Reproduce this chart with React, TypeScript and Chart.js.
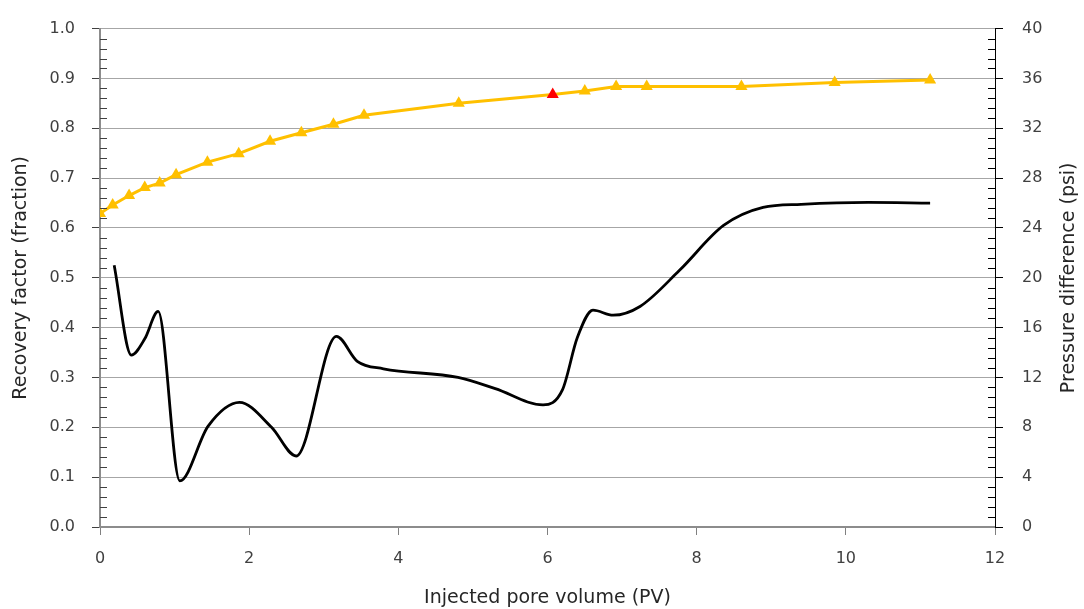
import React, { useEffect, useRef } from "react";
import { Chart, registerables } from "chart.js";

Chart.register(...registerables);

// Recovery factor (left axis, fraction) vs injected PV
const rfPV = [0.0, 0.17, 0.39, 0.6, 0.8, 1.02, 1.44, 1.86, 2.28, 2.7, 3.13, 3.54, 4.81, 6.07, 6.5, 6.92, 7.33, 8.6, 9.85, 11.13];
const rfValues = [0.629, 0.646, 0.665, 0.681, 0.69, 0.707, 0.732, 0.749, 0.774, 0.791, 0.808, 0.826, 0.85, 0.868, 0.875, 0.884, 0.884, 0.884, 0.892, 0.897];
const highlightIndex = 13;

// Pressure difference (right axis, psi) vs injected PV
const dpPV = [0.19, 0.42, 0.6, 0.78, 1.07, 1.45, 1.87, 2.3, 2.63, 3.17, 3.45, 3.8, 4.8, 5.3, 5.94, 6.2, 6.4, 6.61, 6.88, 7.24, 7.77, 8.36, 8.89, 9.4, 10.3, 11.13];
const dpValues = [21.0, 13.8, 15.1, 17.3, 3.7, 8.1, 10.0, 8.0, 5.7, 15.3, 13.3, 12.7, 12.0, 11.1, 9.8, 11.0, 15.2, 17.4, 17.0, 17.7, 20.6, 24.2, 25.65, 25.9, 26.05, 26.0];

const xTicks = [0, 2, 4, 6, 8, 10, 12];
const leftTicks = [0, 0.1, 0.2, 0.3, 0.4, 0.5, 0.6, 0.7, 0.8, 0.9, 1.0];
const rightTicks = [0, 4, 8, 12, 16, 20, 24, 28, 32, 36, 40];

const xTitle = "Injected pore volume (PV)";
const leftTitle = "Recovery factor (fraction)";
const rightTitle = "Pressure difference (psi)";

const TITLE_FONT = "19px 'DejaVu Sans', sans-serif";
const TICK_FONT = { family: "'DejaVu Sans', sans-serif", size: 16 };

const extras = {
  id: "extras",
  afterDraw(chart: any) {
    const ctx = chart.ctx;
    const y = chart.scales.y;
    const y1 = chart.scales.y1;
    ctx.save();
    ctx.lineWidth = 1;
    ctx.strokeStyle = "#404040";
    for (let i = 0; i <= 50; i++) {
      if (i % 5 === 0) continue;
      const py = Math.round(y.getPixelForValue(i * 0.02)) + 0.5;
      ctx.beginPath();
      ctx.moveTo(y.right, py);
      ctx.lineTo(y.right + 7, py);
      ctx.stroke();
    }
    ctx.strokeStyle = "#000000";
    for (let i = 0; i <= 50; i++) {
      if (i % 5 === 0) continue;
      const py = Math.round(y1.getPixelForValue(i * 0.8)) + 0.5;
      ctx.beginPath();
      ctx.moveTo(y1.left - 7, py);
      ctx.lineTo(y1.left, py);
      ctx.stroke();
    }
    // right axis title, reading bottom-to-top
    const area = chart.chartArea;
    ctx.translate(1069, (area.top + area.bottom) / 2);
    ctx.rotate(-Math.PI / 2);
    ctx.font = TITLE_FONT;
    ctx.fillStyle = "#262626";
    ctx.textAlign = "center";
    ctx.textBaseline = "middle";
    ctx.fillText(rightTitle, 0, 0);
    ctx.restore();
  },
};

export default function App() {
  const ref = useRef<HTMLCanvasElement>(null);
  useEffect(() => {
    document.body.style.margin = "0";
    const canvas = ref.current!;
    const chart = new Chart(canvas, {
      type: "line",
      data: {
        datasets: [
          {
            label: "Pressure difference",
            data: dpPV.map((x, i) => ({ x, y: dpValues[i] })),
            yAxisID: "y1",
            borderColor: "#000000",
            borderWidth: 2.8,
            pointRadius: 0,
            cubicInterpolationMode: "monotone",
            fill: false,
          },
          {
            label: "Recovery factor",
            data: rfPV.map((x, i) => ({ x, y: rfValues[i] })),
            yAxisID: "y",
            borderColor: "#FFC000",
            borderWidth: 3,
            tension: 0,
            pointStyle: "triangle",
            pointRadius: 7,
            pointBorderWidth: 0,
            pointBackgroundColor: rfValues.map((_, i) => (i === highlightIndex ? "#FF0000" : "#FFC000")),
            pointBorderColor: rfValues.map((_, i) => (i === highlightIndex ? "#FF0000" : "#FFC000")),
            fill: false,
          },
        ],
      },
      options: {
        responsive: false,
        animation: false,
        layout: { padding: { top: 25, left: 0, right: 0, bottom: 0 } },
        plugins: { legend: { display: false }, tooltip: { enabled: false } },
        scales: {
          x: {
            type: "linear",
            min: 0,
            max: 12,
            afterBuildTicks: (s: any) => {
              s.ticks = xTicks.map((v) => ({ value: v }));
            },
            afterFit: (s: any) => {
              s.height = 82;
            },
            ticks: { padding: 14, color: "#404040", font: TICK_FONT },
            grid: { drawOnChartArea: false, tickLength: 8, tickColor: "#808080", tickWidth: 1 },
            border: { color: "#8C8C8C", width: 2 },
            title: {
              display: true,
              text: xTitle,
              color: "#262626",
              padding: { top: 0, bottom: 0 },
              font: { family: "'DejaVu Sans', sans-serif", size: 19 },
            },
          },
          y: {
            type: "linear",
            position: "left",
            min: 0,
            max: 1,
            afterBuildTicks: (s: any) => {
              s.ticks = leftTicks.map((v) => ({ value: v }));
            },
            afterFit: (s: any) => {
              s.width = 100;
            },
            ticks: {
              padding: 17,
              color: "#404040",
              font: TICK_FONT,
              callback: (v: any) => Number(v).toFixed(1),
            },
            grid: { color: "#A6A6A6", lineWidth: 1, tickLength: 8, tickColor: "#404040" },
            border: { color: "#8C8C8C", width: 2 },
            title: {
              display: true,
              text: leftTitle,
              color: "#262626",
              padding: { top: 10, bottom: 0 },
              font: { family: "'DejaVu Sans', sans-serif", size: 19 },
            },
          },
          y1: {
            type: "linear",
            position: "right",
            min: 0,
            max: 40,
            afterBuildTicks: (s: any) => {
              s.ticks = rightTicks.map((v) => ({ value: v }));
            },
            afterFit: (s: any) => {
              s.width = 89;
            },
            ticks: { padding: 19, color: "#404040", font: TICK_FONT },
            grid: { drawOnChartArea: false, tickLength: 8, tickColor: "#000000" },
            border: { color: "#000000", width: 1 },
            title: { display: false },
          },
        },
      },
      plugins: [extras],
    } as any);
    return () => chart.destroy();
  }, []);
  return (
    <div style={{ position: "absolute", left: 0, top: 0, width: 1084, height: 609, background: "#fff" }}>
      <canvas ref={ref} width={1084} height={609} />
    </div>
  );
}
